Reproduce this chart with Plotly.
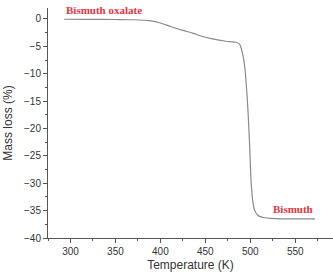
import plotly.graph_objects as go

temperature = [293, 320, 350, 370, 388, 399, 410, 423, 436, 447, 458, 473, 484, 488,
               490, 492, 494, 496, 497.5, 499, 501, 503, 505, 508, 511, 516, 522, 535, 555, 572]
mass_loss = [-0.05, -0.06, -0.1, -0.15, -0.3, -0.7, -1.3, -2.0, -2.6, -3.2, -3.65, -4.07, -4.26, -4.6,
             -5.4, -6.8, -9.0, -13.0, -17.0, -22.0, -30.0, -33.5, -35.0, -35.8, -36.1, -36.3, -36.4, -36.5, -36.5, -36.5]

labels = ["Bismuth oxalate", "Bismuth"]
x_ticks = [300, 350, 400, 450, 500, 550]
y_ticks = [0, -5, -10, -15, -20, -25, -30, -35, -40]

fig = go.Figure()
fig.add_trace(go.Scatter(x=temperature, y=mass_loss, mode="lines",
                         line=dict(color="#8a8a8a", width=1.2, shape="spline", smoothing=0.6),
                         showlegend=False, hoverinfo="skip"))

fig.add_annotation(x=293, y=1.6, text="<b>" + labels[0] + "</b>", showarrow=False,
                   xanchor="left", yanchor="middle",
                   font=dict(family="Liberation Serif", size=11, color="#e8333f"))
fig.add_annotation(x=572, y=-34.7, text="<b>" + labels[1] + "</b>", showarrow=False,
                   xanchor="right", yanchor="middle",
                   font=dict(family="Liberation Serif", size=11, color="#e8333f"))

axis_common = dict(showline=True, linecolor="#555555", linewidth=1, ticks="outside",
                   ticklen=4, tickwidth=1, tickcolor="#555555", showgrid=False, zeroline=False,
                   tickfont=dict(family="Liberation Sans", size=10, color="#333333"),
                   mirror=False)

fig.update_xaxes(range=[275, 592], tickvals=x_ticks,
                 title=dict(text="Temperature (K)", font=dict(family="Liberation Sans", size=12, color="#333333"),
                            standoff=6),
                 minor=dict(ticks="outside", ticklen=2, tickcolor="#555555", dtick=25, tick0=275),
                 **axis_common)
fig.update_yaxes(range=[-40, 2], tickvals=y_ticks,
                 title=dict(text="Mass loss (%)", font=dict(family="Liberation Sans", size=12, color="#333333"),
                            standoff=8),
                 minor=dict(ticks="outside", ticklen=2, tickcolor="#555555", dtick=2.5, tick0=0),
                 **axis_common)

fig.update_layout(width=333, height=272, margin=dict(l=48, r=0, t=8, b=34),
                  paper_bgcolor="white", plot_bgcolor="white")

fig.write_html("out.html")
